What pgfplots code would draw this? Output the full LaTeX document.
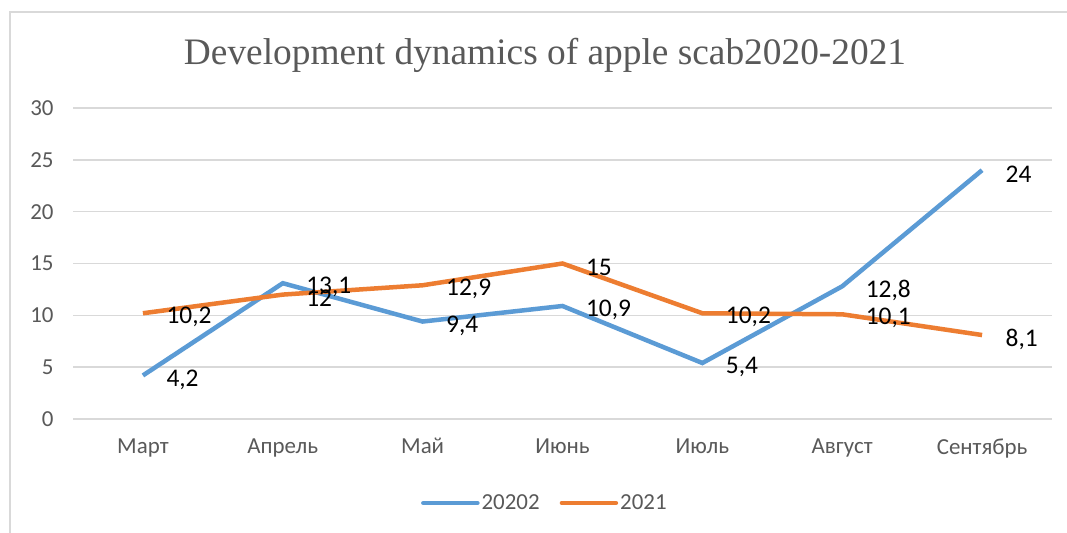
\documentclass[border=0pt]{standalone}
\usepackage{pgfplots}
\pgfplotsset{compat=1.18}
\usepackage{fontspec}
\setmainfont{Carlito}
\newfontfamily\titlefont{Liberation Serif}
\definecolor{sblue}{HTML}{5B9BD5}
\definecolor{sorange}{HTML}{ED7D31}
\definecolor{gridc}{HTML}{D9D9D9}
\definecolor{txtc}{HTML}{595959}
\begin{document}
\begin{tikzpicture}
\useasboundingbox (0,0) rectangle (1067bp,533bp);
\fill[white] (0,0) rectangle (1067bp,533bp);
\draw[gridc, line width=1.5bp] (10bp,-5bp) |- (1080bp,521bp);
\node[font=\titlefont\fontsize{37.5}{40}\selectfont, text=txtc] at (545bp,478bp) {Development dynamics of apple scab2020-2021};
\begin{axis}[
  at={(73bp,114bp)}, anchor=south west,
  scale only axis, width=979bp, height=311bp,
  xmin=-0.5, xmax=6.5, ymin=0, ymax=30,
  xtick={0,...,6},
  xticklabels={Март,Апрель,Май,Июнь,Июль,Август,Сентябрь},
  ytick={0,5,...,30},
  ymajorgrids, major grid style={gridc, line width=1.5bp},
  axis line style={draw=none},
  tick style={draw=none},
  tick label style={font=\fontsize{23}{26}\selectfont, text=txtc},
  /pgf/number format/assume math mode=true,
  yticklabel style={xshift=-16bp},
  xticklabel style={yshift=-16bp},
  clip=false,
  legend columns=2,
  legend style={at={(0.482,-0.27)}, anchor=center, draw=none, fill=none,
    font=\fontsize{23}{26}\selectfont, text=txtc,
    /tikz/every even column/.append style={column sep=18bp}},
  legend image code/.code={\draw[#1, line cap=round] (0bp,0bp) -- (54bp,0bp);},
  nodes near coords,
  every node near coord/.append style={anchor=west, xshift=18bp, yshift=-4bp,
    font=\fontsize{25.5}{28}\selectfont, text=black},
  /pgf/number format/.cd, fixed, precision=1, use comma, assume math mode=true,
]
\addplot[sblue, line width=4.5bp] coordinates {(0,4.2) (1,13.1) (2,9.4) (3,10.9) (4,5.4) (5,12.8) (6,24)};
\addlegendentry{20202}
\addplot[sorange, line width=4.5bp] coordinates {(0,10.2) (1,12) (2,12.9) (3,15) (4,10.2) (5,10.1) (6,8.1)};
\addlegendentry{2021}
\end{axis}
\end{tikzpicture}
\end{document}
